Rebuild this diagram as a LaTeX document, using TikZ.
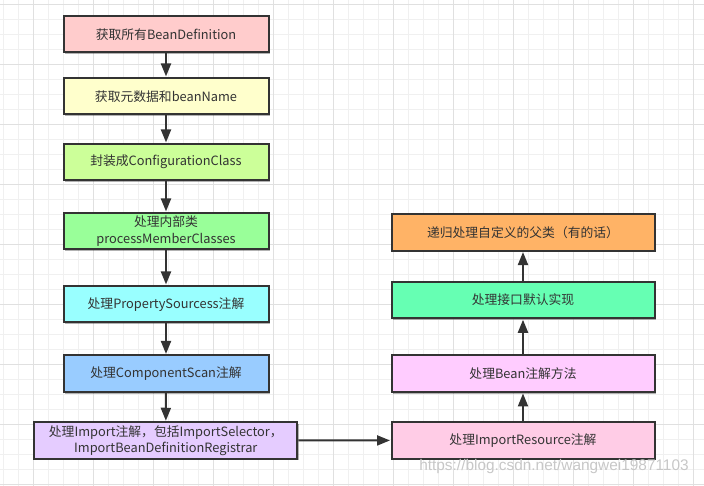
\documentclass[tikz,border=0pt]{standalone}
\usepackage{fontspec}
\setmainfont{Noto Sans CJK SC}
\newfontfamily\wmfont{Liberation Sans}
\usetikzlibrary{arrows.meta,shadows}
\definecolor{txt}{HTML}{333333}
\definecolor{edge}{HTML}{333333}
\definecolor{gminor}{HTML}{F0F0F0}
\definecolor{gmajor}{HTML}{E0E0E0}
\definecolor{c1}{HTML}{FFCCCC}
\definecolor{c2}{HTML}{FFFFCC}
\definecolor{c3}{HTML}{CCFF99}
\definecolor{c4}{HTML}{99FF99}
\definecolor{c5}{HTML}{99FFFF}
\definecolor{c6}{HTML}{99CCFF}
\definecolor{c7}{HTML}{E5CCFF}
\definecolor{r1}{HTML}{FFB366}
\definecolor{r2}{HTML}{66FFB3}
\definecolor{r3}{HTML}{FFCCFF}
\definecolor{r4}{HTML}{FFCCE6}
\begin{document}
\begin{tikzpicture}[x=1pt,y=-1pt,
  stepbox/.style={draw=edge, line width=2pt, minimum width=205pt, minimum height=36.5pt,
    inner sep=0pt, align=center, text=txt, font=\fontsize{12.8}{16.5}\selectfont,
    drop shadow={shadow xshift=1.6pt, shadow yshift=-1.6pt, opacity=0.3, fill=black}},
  widebox/.style={stepbox, minimum width=263pt},
  flow/.style={draw=edge, line width=2pt, -{Triangle[length=13pt,width=10pt]}, shorten >=0.5pt}]
\useasboundingbox (0,0) rectangle (704,486);
% grid
\foreach \gx in {0,...,46} {\draw[gminor, line width=1pt] (3.3+15*\gx,0) -- (3.3+15*\gx,486);}
\foreach \gy in {0,...,32} {\draw[gminor, line width=1pt] (0,4.3+15*\gy) -- (704,4.3+15*\gy);}
\foreach \gx in {0,...,11} {\draw[gmajor, line width=1pt] (33.3+60*\gx,0) -- (33.3+60*\gx,486);}
\foreach \gy in {0,...,8} {\draw[gmajor, line width=1pt] (0,4.3+60*\gy) -- (704,4.3+60*\gy);}
% left column
\node[stepbox, fill=c1] (b1) at (166,34.2) {获取所有BeanDefinition};
\node[stepbox, fill=c2] (b2) at (166,96.2) {获取元数据和beanName};
\node[stepbox, fill=c3] (b3) at (166,162.2) {封装成ConfigurationClass};
\node[stepbox, fill=c4] (b4) at (166,231.2) {处理内部类\\processMemberClasses};
\node[stepbox, fill=c5] (b5) at (166,304.2) {处理PropertySourcess注解};
\node[stepbox, fill=c6] (b6) at (166,373.7) {处理ComponentScan注解};
\node[widebox, fill=c7] (b7) at (165.8,440.5) {处理Import注解，包括ImportSelector，\\ImportBeanDefinitionRegistrar};
% right column
\node[widebox, fill=r4] (q4) at (523,440.4) {处理ImportResource注解};
\node[widebox, fill=r3] (q3) at (523,373.7) {处理Bean注解方法};
\node[widebox, fill=r2] (q2) at (523,300) {处理接口默认实现};
\node[widebox, fill=r1] (q1) at (523,232.3) {递归处理自定义的父类（有的话）};
% connectors
\draw[flow] (b1) -- (b2);
\draw[flow] (b2) -- (b3);
\draw[flow] (b3) -- (b4);
\draw[flow] (b4) -- (b5);
\draw[flow] (b5) -- (b6);
\draw[flow] (b6) -- (b7);
\draw[flow] (b7) -- (q4);
\draw[flow] (q4) -- (q3);
\draw[flow] (q3) -- (q2);
\draw[flow] (q2) -- (q1);
% watermark
\node[text=black!22, font=\wmfont\fontsize{15.4}{17}\selectfont, inner sep=0pt] (wm) at (554,466.7) {https://blog.csdn.net/wangwei19871103};
\end{tikzpicture}
\end{document}
